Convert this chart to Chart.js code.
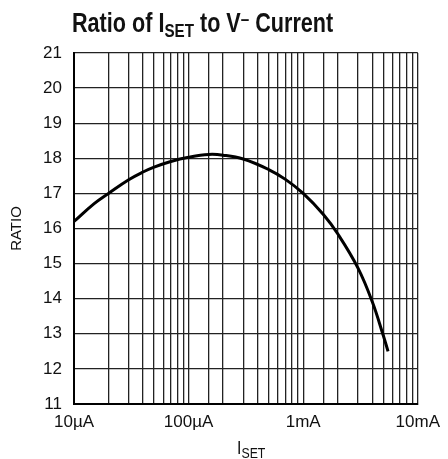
<!DOCTYPE html>
<html>
<head>
<meta charset="utf-8">
<script src="https://cdn.jsdelivr.net/npm/chart.js@4.4.0/dist/chart.umd.min.js"></script>
<style>
  html, body { margin: 0; padding: 0; background: #fff; }
  #wrap { position: relative; width: 448px; height: 459px; }
  #chart { position: absolute; left: 0; top: 0; }
  .txt { position: absolute; font-family: "Liberation Sans Narrow", "Liberation Sans", sans-serif; color: #111; white-space: nowrap; transform-origin: 0 0; }
  #title { left: 72px; top: 8px; font-size: 27px; font-weight: bold; transform: scaleX(0.8); }
  #title sub { font-size: 19px; vertical-align: -5px; line-height: 0; }
  #title sup { font-size: 19px; vertical-align: 7px; line-height: 0; }
  #xtitle { left: 237px; top: 438px; font-size: 18px; transform: scaleX(0.88); }
  #xtitle sub { font-size: 14px; vertical-align: -4px; line-height: 0; }
</style>
</head>
<body>
<div id="wrap">
  <canvas id="chart" width="448" height="459"></canvas>
  <div class="txt" id="title">Ratio of I<sub>SET</sub> to V<sup>–</sup> Current</div>
  <div class="txt" id="xtitle">I<sub>SET</sub></div>
</div>
<script>
// corriente I_SET en µA
var currentsUA = [10, 15, 20, 30, 40, 50, 70, 100, 150, 200, 300, 500, 700, 1000, 1500, 2000, 3000, 4000, 5000, 5500];
var ratio = [16.2, 16.71, 17.0, 17.39, 17.61, 17.75, 17.91, 18.03, 18.11, 18.09, 17.98, 17.68, 17.4, 17.0, 16.4, 15.85, 14.88, 13.92, 12.95, 12.5];
var xTickLabels = { 10: '10µA', 100: '100µA', 1000: '1mA', 10000: '10mA' };
var yTicks = [11, 12, 13, 14, 15, 16, 17, 18, 19, 20, 21];

document.addEventListener('DOMContentLoaded', function() {
    var ctx = document.getElementById('chart').getContext('2d');
    var font = { family: '"Liberation Sans Narrow", "Liberation Sans", sans-serif', size: 17 };
    var chart = new Chart(ctx, {
        type: 'line',
        data: {
            datasets: [{
                label: 'Ratio',
                data: currentsUA.map(function(c, i) { return { x: c, y: ratio[i] }; }),
                borderColor: '#000',
                borderWidth: 3,
                pointRadius: 0,
                fill: false,
                tension: 0.4
            }]
        },
        options: {
            responsive: false,
            animation: false,
            layout: { padding: { left: 0, top: 53, right: 22, bottom: 0 } },
            plugins: {
                legend: { display: false },
                title: { display: false },
                tooltip: { enabled: false }
            },
            scales: {
                x: {
                    type: 'logarithmic',
                    min: 10,
                    max: 10000,
                    border: { color: '#000', width: 2 },
                    grid: { color: '#222', lineWidth: 1.3, drawTicks: false },
                    ticks: {
                        autoSkip: false,
                        maxRotation: 0,
                        padding: 8,
                        color: '#111',
                        font: font,
                        callback: function(value) { return xTickLabels[value] || ''; }
                    },
                    afterFit: function(scale) { scale.height = 55; }
                },
                y: {
                    min: yTicks[0],
                    max: yTicks[yTicks.length - 1],
                    border: { color: '#000', width: 2 },
                    grid: { color: '#222', lineWidth: 1.3, drawTicks: false },
                    ticks: {
                        stepSize: 1,
                        padding: 12,
                        color: '#111',
                        font: font
                    },
                    title: {
                        display: true,
                        text: 'RATIO',
                        color: '#111',
                        font: { family: font.family, size: 15 },
                        padding: { top: 8, bottom: 4 }
                    },
                    afterFit: function(scale) { scale.width = 74; }
                }
            }
        }
    });
});
</script>
</body>
</html>
